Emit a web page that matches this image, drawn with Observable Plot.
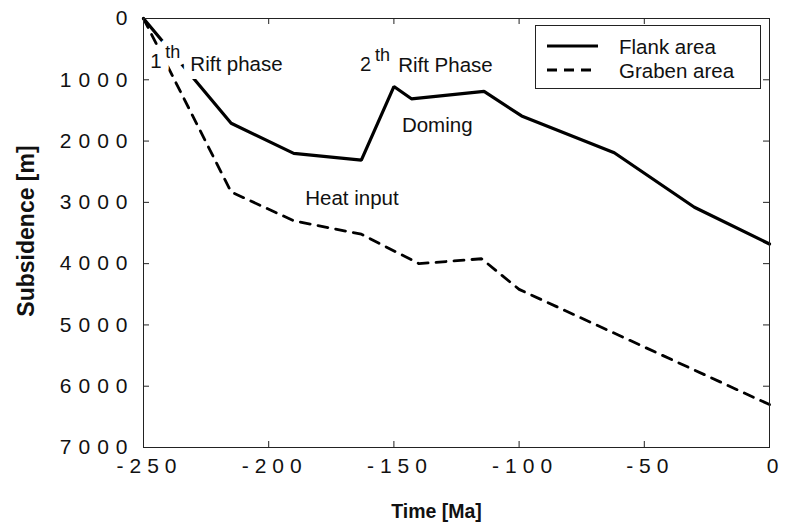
<!DOCTYPE html>
<html><head><meta charset="utf-8">
<script src="https://cdn.jsdelivr.net/npm/d3@7"></script>
<script src="https://cdn.jsdelivr.net/npm/@observablehq/plot@0.6"></script>
<style>
body{margin:0;background:#fff;font-family:"Liberation Sans",Arial,sans-serif;}
#wrap{position:relative;width:786px;height:525px;}
g[aria-label="y-axis tick label"] text{letter-spacing:7px}
g[aria-label="x-axis tick label"] text{letter-spacing:6px}
#legend{position:absolute;left:535px;top:25px;width:224px;height:62px;border:1px solid #222;background:#fff;}
</style></head><body><div id="wrap"></div>
<script>
// Data
const flankTime  = [-250, -215, -190, -163, -150, -143, -114, -99, -62, -30, 0];
const flankDepth = [0, 1710, 2200, 2310, 1110, 1310, 1190, 1590, 2190, 3080, 3680];
const grabenTime  = [-250, -215, -190, -163, -140, -115, -100, 0];
const grabenDepth = [0, 2830, 3300, 3520, 4000, 3920, 4420, 6300];
const seriesNames = ["Flank area", "Graben area"];
const xTicks = [-250, -200, -150, -100, -50, 0];
const yTicks = [0, 1000, 2000, 3000, 4000, 5000, 6000, 7000];
const annLabels = ["1", "th", "Rift phase", "2", "th", "Rift Phase", "Doming", "Heat input"];
const annTime   = [-247.3, -241.3, -231.3, -163.5, -157.5, -148.3, -146.8, -185.4];
const annDepth  = [804, 641, 853, 864, 690, 881, 1859, 3039];
const annSuper  = [false, true, false, false, true, false, false, false];

const W = 786, H = 525, mL = 143, mR = 17, mT = 18, mB = 78;
const fW = W - mL - mR, fH = H - mT - mB, tick = 6;

const flank = flankTime.map((t, i) => ({t, d: flankDepth[i]}));
const graben = grabenTime.map((t, i) => ({t, d: grabenDepth[i]}));
const ann = annLabels.map((s, i) => ({s, t: annTime[i], d: annDepth[i], sup: annSuper[i]}));

const plot = Plot.plot({
  width: W, height: H,
  marginLeft: mL, marginRight: mR, marginTop: mT, marginBottom: mB,
  style: {fontFamily: '"Liberation Sans", Arial, sans-serif', color: "#111", background: "#fff"},
  x: {domain: [-250, 0]},
  y: {domain: [0, 7000], reverse: true},
  marks: [
    Plot.line(graben, {x: "t", y: "d", stroke: "#000", strokeWidth: 2.8, strokeDasharray: "10,8", strokeLinejoin: "miter"}),
    Plot.line(flank, {x: "t", y: "d", stroke: "#000", strokeWidth: 3.2, strokeLinejoin: "miter"}),
    Plot.text(ann.filter(a => !a.sup), {x: "t", y: "d", text: "s", textAnchor: "start", lineAnchor: "bottom",
      fontSize: 20.5, fill: "#111", stroke: "#fff", strokeWidth: 16, strokeLinejoin: "round"}),
    Plot.text(ann.filter(a => a.sup), {x: "t", y: "d", text: "s", textAnchor: "start", lineAnchor: "bottom",
      fontSize: 18, fill: "#111", stroke: "#fff", strokeWidth: 14, strokeLinejoin: "round"}),
    Plot.frame({stroke: "#222", strokeWidth: 1}),
    Plot.ruleX(xTicks, {x: d => d, insetTop: fH - tick, stroke: "#222"}),
    Plot.ruleX(xTicks, {x: d => d, insetBottom: fH - tick, stroke: "#222"}),
    Plot.ruleY(yTicks, {y: d => d, insetRight: fW - tick, stroke: "#222"}),
    Plot.ruleY(yTicks, {y: d => d, insetLeft: fW - tick, stroke: "#222"}),
    Plot.axisX(xTicks, {tickSize: 0, tickPadding: 11, fontSize: 21, dx: 6, label: null, tickFormat: d => String(d)}),
    Plot.axisY(yTicks, {tickSize: 0, tickPadding: 9, fontSize: 21, label: null, tickFormat: d => String(d)}),
    Plot.text(["Subsidence [m]"], {frameAnchor: "left", textAnchor: "middle", rotate: -90, dx: -117, dy: -2, fontSize: 23, fontWeight: "bold", fill: "#111", lineAnchor: "middle"}),
    Plot.text(["Time [Ma]"], {frameAnchor: "bottom", textAnchor: "middle", dx: -20, dy: 70, fontSize: 19.5, fontWeight: "bold", fill: "#111", lineAnchor: "bottom"})
  ]
});

const wrap = document.getElementById("wrap");
wrap.appendChild(plot);

// Legend box inside the plot area
const legend = document.createElement("div");
legend.id = "legend";
const ns = "http://www.w3.org/2000/svg";
const lsvg = document.createElementNS(ns, "svg");
lsvg.setAttribute("width", 224); lsvg.setAttribute("height", 62);
const dashes = [null, "10,7"];
const rowY = [20, 44];
seriesNames.forEach((name, i) => {
  const ln = document.createElementNS(ns, "line");
  ln.setAttribute("x1", 11); ln.setAttribute("x2", 62);
  ln.setAttribute("y1", rowY[i]); ln.setAttribute("y2", rowY[i]);
  ln.setAttribute("stroke", "#000"); ln.setAttribute("stroke-width", 3);
  if (dashes[i]) ln.setAttribute("stroke-dasharray", dashes[i]);
  lsvg.appendChild(ln);
  const tx = document.createElementNS(ns, "text");
  tx.setAttribute("x", 83); tx.setAttribute("y", rowY[i] + 7.5);
  tx.setAttribute("font-size", 20.5); tx.setAttribute("fill", "#111");
  tx.setAttribute("font-family", '"Liberation Sans", Arial, sans-serif');
  tx.textContent = name;
  lsvg.appendChild(tx);
});
legend.appendChild(lsvg);
wrap.appendChild(legend);
</script>
</body></html>
